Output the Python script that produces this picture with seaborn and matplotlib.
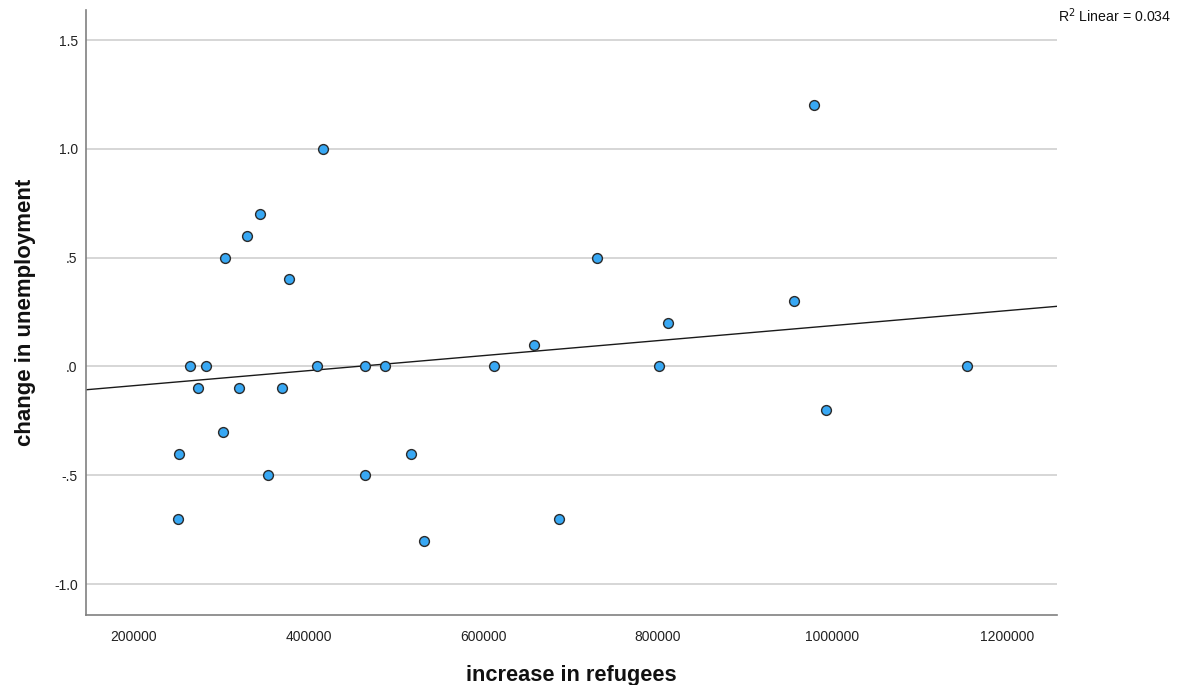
import matplotlib
matplotlib.use("Agg")
import matplotlib.pyplot as plt
import seaborn as sns
import pandas as pd
from matplotlib.ticker import FixedLocator, FuncFormatter

# data
refugees = [250000, 252000, 264000, 273000, 283000, 302000, 304000, 320000,
            329000, 344000, 354000, 370000, 377000, 410000, 416000, 465000,
            465000, 487000, 517000, 532000, 612000, 658000, 730000, 687000,
            801000, 812000, 956000, 979000, 992000, 1154000]
unemployment = [-0.7, -0.4, 0.0, -0.1, 0.0, -0.3, 0.5, -0.1,
                0.6, 0.7, -0.5, -0.1, 0.4, 0.0, 1.0, 0.0,
                -0.5, 0.0, -0.4, -0.8, 0.0, 0.1, 0.5, -0.7,
                0.0, 0.2, 0.3, 1.2, -0.2, 0.0]
x_ticks = [200000, 400000, 600000, 800000, 1000000, 1200000]
y_ticks = [-1.0, -0.5, 0.0, 0.5, 1.0, 1.5]
r2_label = "R$^2$ Linear = 0.034"

df = pd.DataFrame({"increase in refugees": refugees,
                   "change in unemployment": unemployment})

sns.set_style("white")
plt.rcParams["font.family"] = ["Liberation Sans", "DejaVu Sans"]

fig = plt.figure(figsize=(11.84, 6.85), dpi=100)
ax = fig.add_axes([0.0726, 0.1022, 0.8201, 0.8832])
ax.set_xlim(145000, 1257000)
ax.set_ylim(-1.142, 1.638)

for yv in y_ticks:
    ax.axhline(yv, color="#cfcfcf", lw=1.2, zorder=0)

sns.regplot(data=df, x="increase in refugees", y="change in unemployment",
            ax=ax, ci=None, truncate=False,
            scatter_kws=dict(s=50, color="#38a8f4", edgecolors="#2b2b2b",
                             linewidths=1.0, alpha=1, zorder=3),
            line_kws=dict(color="#1a1a1a", lw=1.0, zorder=2))
ax.set_xlim(145000, 1257000)
ax.set_ylim(-1.142, 1.638)

ax.xaxis.set_major_locator(FixedLocator(x_ticks))
ax.yaxis.set_major_locator(FixedLocator(y_ticks))
ax.xaxis.set_major_formatter(FuncFormatter(lambda v, p: f"{int(v)}"))

def yfmt(v, p):
    s = f"{v:.1f}"
    if s.startswith("0"):
        s = s[1:]
    elif s.startswith("-0"):
        s = "-" + s[2:]
    return s
ax.yaxis.set_major_formatter(FuncFormatter(yfmt))

ax.tick_params(axis="both", length=0, labelsize=10, colors="#222222")
ax.tick_params(axis="x", pad=11)
ax.tick_params(axis="y", pad=6)

for side in ["top", "right"]:
    ax.spines[side].set_visible(False)
for side in ["left", "bottom"]:
    ax.spines[side].set_color("#808080")
    ax.spines[side].set_linewidth(1.2)

ax.set_xlabel("increase in refugees", fontsize=15.7, fontweight="bold",
              color="#111111", labelpad=15)
ax.set_ylabel("change in unemployment", fontsize=16, fontweight="bold",
              color="#111111")
ax.yaxis.set_label_coords(-0.051, 0.5)

fig.text(1058 / 1184, 1 - 16 / 685, r2_label, fontsize=10.2, color="#111111",
         va="center", ha="left")

fig.savefig("out.png", dpi=100)
